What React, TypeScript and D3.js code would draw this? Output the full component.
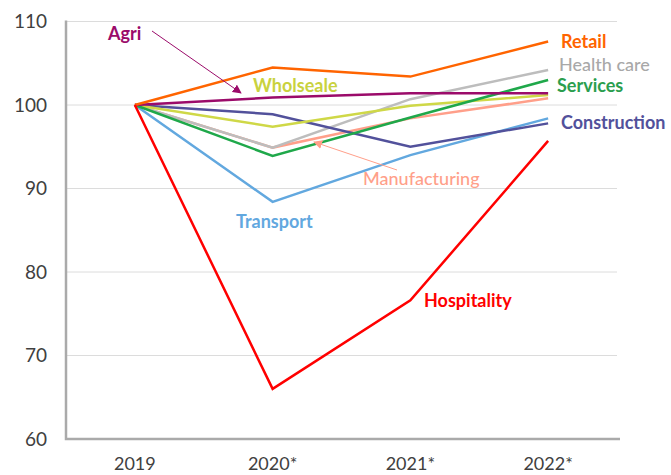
import React from "react";
import * as d3 from "d3";

const years = ["2019", "2020*", "2021*", "2022*"];
const yTicks = [60, 70, 80, 90, 100, 110];

const healthCare = [100, 94.9, 100.7, 104.2];
const manufacturing = [100, 94.9, 98.4, 100.8];
const transport = [100, 88.4, 94.0, 98.4];
const construction = [100, 98.9, 95.0, 97.8];
const wholesale = [100, 97.4, 99.9, 101.2];
const services = [100, 93.9, 98.5, 103.0];
const agri = [100, 100.9, 101.4, 101.4];
const retail = [100, 104.5, 103.4, 107.6];
const hospitality = [100, 66.0, 76.6, 95.7];

const seriesNames = ["Manufacturing", "Health care", "Transport", "Construction", "Wholseale", "Services", "Agri", "Retail", "Hospitality"];
const seriesValues = [manufacturing, healthCare, transport, construction, wholesale, services, agri, retail, hospitality];
const seriesColors = ["#ff9f8a", "#bdbdbd", "#62a8df", "#52519b", "#cfd847", "#1fa84a", "#9b0b6a", "#ff6400", "#ff0000"];

type Lab = { name: string; x: number; y: number; color: string; weight: number };
const labels: Lab[] = [
  { name: "Agri", x: 108, y: 40, color: "#9b0b6a", weight: 700 },
  { name: "Wholseale", x: 253, y: 92, color: "#c9d23e", weight: 700 },
  { name: "Transport", x: 236, y: 228, color: "#62a8df", weight: 700 },
  { name: "Retail", x: 561, y: 48, color: "#ff6400", weight: 700 },
  { name: "Health care", x: 559, y: 71, color: "#a8a8a8", weight: 500 },
  { name: "Services", x: 557, y: 92, color: "#2b9e4e", weight: 700 },
  { name: "Construction", x: 561, y: 129, color: "#52519b", weight: 700 },
  { name: "Manufacturing", x: 363, y: 185, color: "#ff9f8a", weight: 500 },
  { name: "Hospitality", x: 424, y: 307, color: "#ff0000", weight: 700 },
];

const W = 671, H = 475;
const left = 66, right = 617, top = 21.5, bottom = 439;

export default function App() {
  const x = d3.scalePoint<string>().domain(years).range([left, right]).padding(0.5);
  const y = d3.scaleLinear().domain([60, 110]).range([bottom, top]);
  const line = d3.line<number>().x((_, i) => x(years[i]) as number).y((d) => y(d));
  const font = "Lato, 'Noto Sans', sans-serif";

  return (
    <svg width={W} height={H} style={{ position: "absolute", left: 0, top: 0, background: "#fff" }}>
      <defs>
        <marker id="ahA" viewBox="0 0 10 10" refX="9" refY="5" markerWidth="9" markerHeight="9" markerUnits="userSpaceOnUse" orient="auto">
          <path d="M0,0 L10,5 L0,10 z" fill="#9b0b6a" />
        </marker>
        <marker id="ahM" viewBox="0 0 10 10" refX="9" refY="5" markerWidth="9" markerHeight="9" markerUnits="userSpaceOnUse" orient="auto">
          <path d="M0,0 L10,5 L0,10 z" fill="#ff9f8a" />
        </marker>
      </defs>
      {yTicks.filter((t) => t > 60).map((t) => (
        <line key={t} x1={left} x2={right} y1={y(t)} y2={y(t)} stroke="#dcdcdc" strokeWidth={1} />
      ))}
      {yTicks.map((t) => (
        <text key={"l" + t} x={47} y={y(t)} dy="0.35em" textAnchor="end" fontFamily={font} fontSize={19} fill="#404040">{t}</text>
      ))}
      {years.map((yr) => (
        <text key={yr} x={x(yr)} y={464} dy="0.35em" textAnchor="middle" fontFamily={font} fontSize={18} fill="#404040">{yr}</text>
      ))}
      <path d={`M${left},${top - 1}V${bottom}H${right + 3}`} fill="none" stroke="#aaaaaa" strokeWidth={2.5} />
      {seriesValues.map((vals, i) => (
        <path key={seriesNames[i]} d={line(vals) || ""} fill="none" stroke={seriesColors[i]} strokeWidth={2.5} strokeLinejoin="miter" />
      ))}
      <line x1={152} y1={31} x2={241} y2={93} stroke="#9b0b6a" strokeWidth={1} markerEnd="url(#ahA)" />
      <line x1={397} y1={170} x2={314} y2={142} stroke="#ff9f8a" strokeWidth={1} markerEnd="url(#ahM)" />
      {labels.map((l) => (
        <text key={l.name} x={l.x} y={l.y} fontFamily={font} fontSize={18} fontWeight={l.weight} fill={l.color}>{l.name}</text>
      ))}
    </svg>
  );
}
